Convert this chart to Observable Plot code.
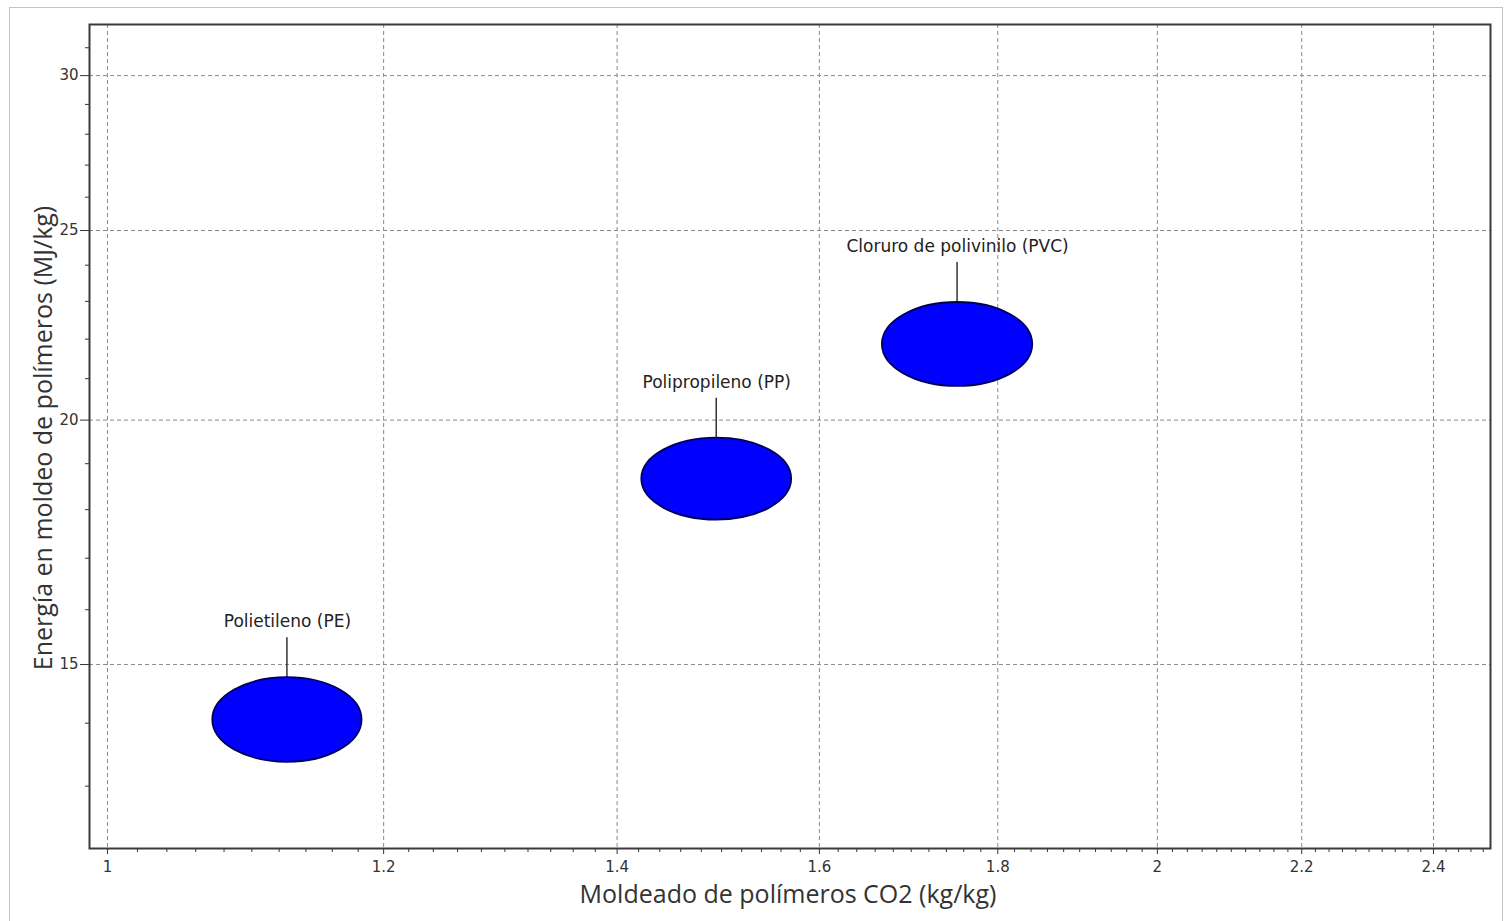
<!DOCTYPE html>
<html>
<head>
<meta charset="utf-8">
<script src="https://cdn.jsdelivr.net/npm/d3@7"></script>
<script src="https://cdn.jsdelivr.net/npm/@observablehq/plot@0.6"></script>
<style>
  html, body { margin: 0; padding: 0; background: #fff; }
  #wrap { position: relative; width: 1508px; height: 921px; overflow: hidden; }
  #border { position: absolute; left: 9px; top: 7px; width: 1494px; height: 930px; border: 1px solid #c4c4c4; box-sizing: border-box; pointer-events: none; }
  #chart { position: absolute; left: 0; top: 0; }
  #chart svg g[aria-label$="tick label"] { font-size: 15px; font-family: "DejaVu Sans", sans-serif; }
</style>
</head>
<body>
<div id="wrap"><div id="border"></div><div id="chart"></div></div>
<script>
// ---- data ----
const materials = ["Polietileno (PE)", "Polipropileno (PP)", "Cloruro de polivinilo (PVC)"];
const co2Low = [1.072, 1.423, 1.668];      // kg/kg
const co2High = [1.183, 1.571, 1.842];     // kg/kg
const energyLow = [13.37, 17.78, 20.81];   // MJ/kg
const energyHigh = [14.77, 19.58, 22.97];  // MJ/kg

const xTicks = [1, 1.2, 1.4, 1.6, 1.8, 2, 2.2, 2.4];
const yTicks = [15, 20, 25, 30];
const xMinorTicks = d3.range(50, 125).map(i => i / 50).filter(v => !xTicks.some(t => Math.abs(t - v) < 1e-9));
const yMinorTicks = d3.range(13, 32).filter(v => !yTicks.includes(v));

const xLabel = "Moldeado de polímeros CO2 (kg/kg)";
const yLabel = "Energía en moldeo de polímeros (MJ/kg)";

const rows = materials.map((name, i) => ({
  name,
  x1: co2Low[i], x2: co2High[i],
  y1: energyLow[i], y2: energyHigh[i],
  xc: Math.sqrt(co2Low[i] * co2High[i])
}));

const fontTick = "DejaVu Sans, sans-serif";

const ellipses = Plot.rect(rows, {
  x1: "x1", x2: "x2", y1: "y1", y2: "y2",
  fill: "#0000ff", stroke: "#000070",
  render(index, scales, values, dimensions, context) {
    const g = d3.create("svg:g");
    for (const i of index) {
      const a = values.x1[i], b = values.x2[i], c = values.y1[i], d = values.y2[i];
      const cx = (a + b) / 2, cy = (c + d) / 2;
      const rx = Math.abs(b - a) / 2, ry = Math.abs(d - c) / 2;
      g.append("line")
        .attr("x1", cx).attr("x2", cx)
        .attr("y1", cy - ry).attr("y2", cy - ry - 40)
        .attr("stroke", "#333").attr("stroke-width", 1.5);
      g.append("ellipse")
        .attr("cx", cx).attr("cy", cy).attr("rx", rx).attr("ry", ry)
        .attr("fill", "#0000ff").attr("stroke", "#00005a").attr("stroke-width", 1.8);
    }
    return g.node();
  }
});

const chart = Plot.plot({
  width: 1508,
  height: 921,
  marginLeft: 89,
  marginRight: 18,
  marginTop: 24,
  marginBottom: 73,
  style: { background: "transparent", fontFamily: fontTick, color: "#333" },
  x: { type: "log", domain: [0.9882, 2.492] },
  y: { type: "log", domain: [12.08, 31.86] },
  marks: [
    Plot.gridX(xTicks, { stroke: "#8a8a8a", strokeOpacity: 1, strokeDasharray: "4,3" }),
    Plot.gridY(yTicks, { stroke: "#8a8a8a", strokeOpacity: 1, strokeDasharray: "4,3" }),
    Plot.axisX(xMinorTicks, { tickSize: 4, tickFormat: () => "", label: null, stroke: "#333" }),
    Plot.axisY(yMinorTicks, { tickSize: 4, tickFormat: () => "", label: null, stroke: "#333" }),
    Plot.axisX(xTicks, { tickSize: 6, tickPadding: 7, tickFormat: d => String(d), fill: "#333", stroke: "#333", label: null }),
    Plot.axisY(yTicks, { tickSize: 9, tickPadding: 2, tickFormat: d => String(d), fill: "#333", stroke: "#333", label: null }),
    Plot.frame({ stroke: "#3a3a3a", strokeWidth: 2 }),
    ellipses,
    Plot.text(rows, { x: "xc", y: "y2", text: "name", dy: -56, fontSize: 17, fill: "#222", fontFamily: "DejaVu Sans, sans-serif" })
  ]
});

// axis titles as SVG text
const svg = d3.select(chart.tagName.toLowerCase() === "svg" ? chart : chart.querySelector("svg"));
svg.append("text")
  .attr("x", 788).attr("y", 903)
  .attr("text-anchor", "middle")
  .attr("font-family", "Open Sans, sans-serif").attr("font-size", 25).attr("fill", "#333")
  .text(xLabel);
svg.append("text")
  .attr("transform", "translate(52,438) rotate(-90)")
  .attr("text-anchor", "middle")
  .attr("font-family", "Open Sans, sans-serif").attr("font-size", 25).attr("fill", "#333")
  .text(yLabel);

document.getElementById("chart").appendChild(chart);
</script>
</body>
</html>
